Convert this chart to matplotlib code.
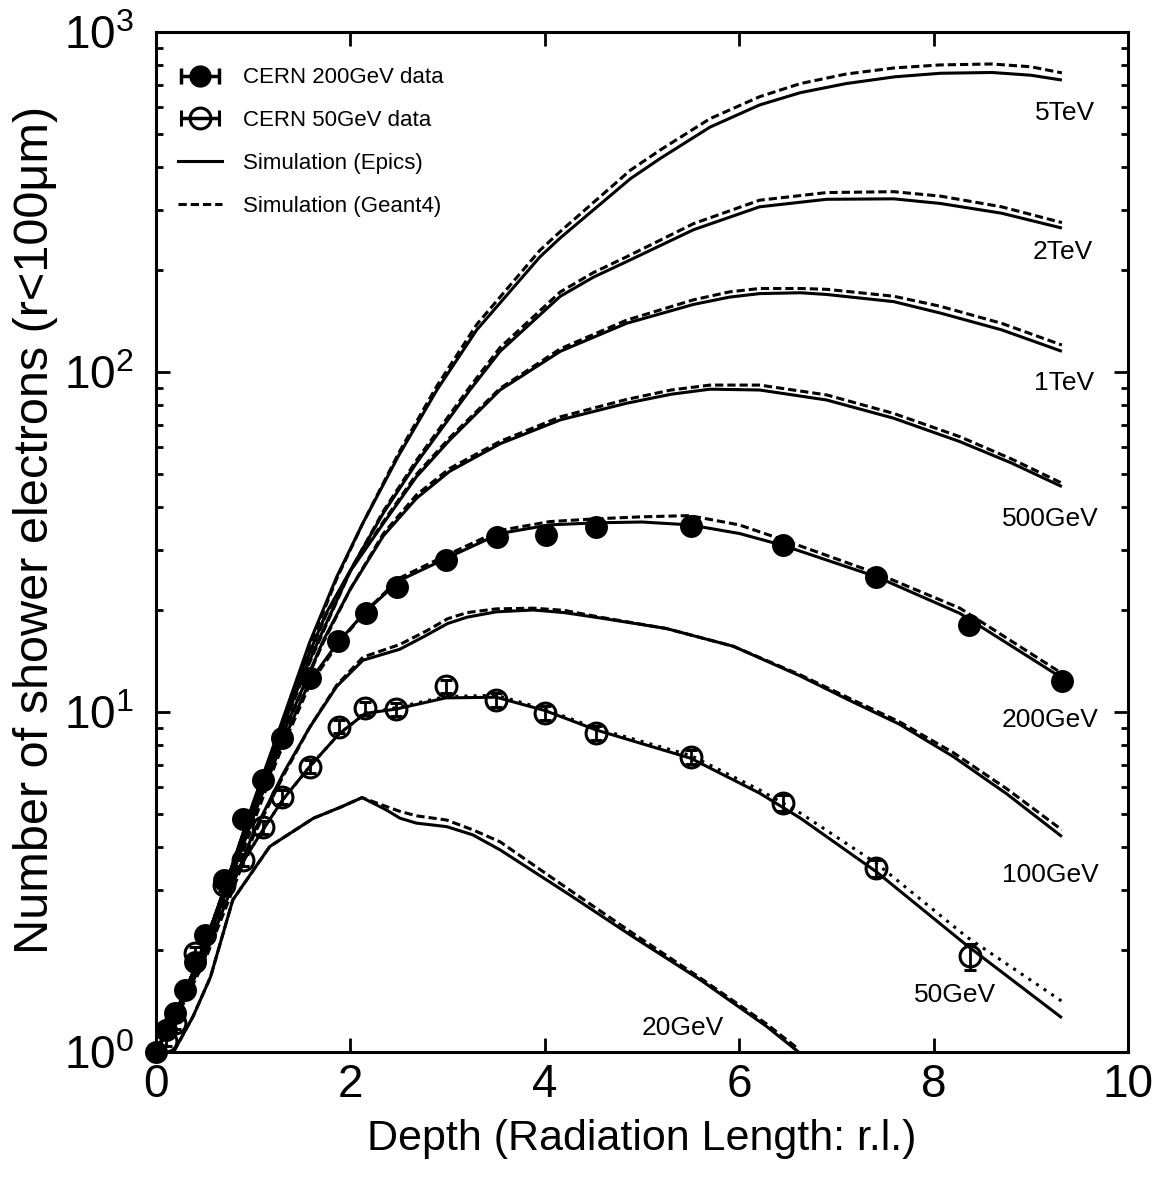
import numpy as np
import matplotlib
matplotlib.use('Agg')
import matplotlib.pyplot as plt
from matplotlib.legend_handler import HandlerErrorbar

plt.rcParams['font.family'] = ['Liberation Sans', 'DejaVu Sans']
plt.rcParams['mathtext.fontset'] = 'custom'
plt.rcParams['mathtext.rm'] = 'Liberation Sans'

# CERN beam data (200 GeV filled, 50 GeV open)
x_200d = [0, 0.1, 0.2, 0.3, 0.4, 0.5, 0.7, 0.9, 1.1, 1.3, 1.58, 1.87, 2.16, 2.48, 2.98,
          3.51, 4.01, 4.53, 5.5, 6.45, 7.41, 8.36, 9.32]
y_200d = [1.0, 1.16, 1.30, 1.52, 1.84, 2.21, 3.2, 4.83, 6.31, 8.4, 12.6, 16.2, 19.6, 23.3, 28.0,
          32.6, 33.2, 35.1, 35.3, 30.9, 25.0, 18.0, 12.3]
err_200d = [0.03, 0.03, 0.04, 0.04, 0.05, 0.06, 0.08, 0.1, 0.12, 0.15, 0.2, 0.25, 0.3, 0.35, 0.4,
            0.45, 0.45, 0.5, 0.5, 0.45, 0.4, 0.35, 0.3]

x_50d = [0.1, 0.2, 0.4, 0.7, 0.9, 1.1, 1.3, 1.58, 1.88, 2.15, 2.47, 2.98, 3.5, 4.0, 4.53,
         5.5, 6.45, 7.41, 8.37]
y_50d = [1.08, 1.22, 1.95, 3.1, 3.67, 4.58, 5.63, 6.9, 9.05, 10.25, 10.2, 11.9, 10.85, 9.95, 8.69,
         7.39, 5.4, 3.47, 1.91]
err_50d = [0.04, 0.05, 0.08, 0.12, 0.15, 0.2, 0.25, 0.3, 0.4, 0.45, 0.45, 0.5, 0.5, 0.45, 0.4,
           0.35, 0.3, 0.2, 0.17]

# simulation curves: Epics (solid) and Geant4 (dashed)
x_5tev = [0, 0.25, 0.5, 0.75, 1.0, 1.25, 1.58, 1.86, 2.13, 2.5, 2.89, 3.3, 3.95, 4.16, 4.88,
          5.19, 5.7, 6.21, 6.63, 7.1, 7.6, 8.07, 8.6, 9.0, 9.32]
epics_5tev = [1.0, 1.4, 2.05, 3.3, 5.4, 8.6, 16, 25, 36, 57, 88.5, 133, 218, 248, 370,
              425, 525, 610, 663, 705, 738, 756, 760, 746, 722]
g4_5tev = [1.0, 1.4, 2.05, 3.3, 5.3, 8.4, 15.6, 24.7, 36, 58, 91, 138, 228, 259, 392,
           450, 556, 645, 705, 752, 784, 800, 805, 790, 758]

x_2tev = [0, 0.25, 0.5, 0.75, 1.0, 1.25, 1.5, 1.75, 2.06, 2.34, 2.68, 3.23, 3.54, 4.16, 4.5,
          4.84, 5.53, 6.21, 6.9, 7.59, 8.07, 8.7, 9.32]
epics_2tev = [1.0, 1.4, 2.05, 3.3, 5.4, 8.5, 13.2, 19.5, 28, 38.5, 54, 88.5, 115, 167, 190,
              211, 262, 306, 322, 323, 313, 293, 265]
g4_2tev = [1.0, 1.4, 2.05, 3.3, 5.3, 8.3, 13.0, 19.3, 28, 39, 55, 90.5, 118, 172, 196,
           218, 273, 320, 337, 339, 329, 306, 275]

x_1tev = [0, 0.25, 0.5, 0.75, 1.0, 1.25, 1.5, 1.75, 2.0, 2.34, 2.68, 3.02, 3.54, 4.16, 4.84,
          5.53, 5.9, 6.21, 6.63, 6.9, 7.59, 8.07, 8.7, 9.32]
epics_1tev = [1.0, 1.4, 2.05, 3.3, 5.3, 8.2, 12.6, 18.2, 26, 35.9, 49.2, 63, 88.5, 115, 139,
              158, 166, 170, 171, 169, 161, 149, 133, 115]
g4_1tev = [1.0, 1.4, 2.05, 3.3, 5.2, 8.1, 12.4, 18.0, 26, 36.3, 50, 64, 89.5, 117, 142,
           163, 172, 176, 176, 175, 167, 156, 139, 120]

x_500 = [0, 0.25, 0.5, 0.75, 1.0, 1.25, 1.5, 1.72, 2.0, 2.34, 2.68, 3.02, 3.54, 4.16, 4.84,
         5.3, 5.7, 6.21, 6.9, 7.59, 8.27, 8.8, 9.32]
epics_500 = [1.0, 1.4, 2.0, 3.2, 5.1, 7.9, 11.6, 16.2, 23, 33, 42.5, 51, 61.5, 72.3, 80.9,
             86, 89, 88.5, 82.7, 73.1, 62.4, 54, 46]
g4_500 = [1.0, 1.4, 2.0, 3.2, 5.0, 7.8, 11.5, 16.0, 23, 33.5, 43.5, 52, 62.5, 73.8, 83,
          88.5, 91.5, 91.5, 85.6, 75.5, 64.5, 55.5, 47.1]

x_200 = [0, 0.25, 0.5, 0.75, 1.0, 1.25, 1.58, 1.87, 2.16, 2.51, 3.02, 3.54, 4.05, 4.53, 5.0,
         5.49, 6.0, 6.45, 7.41, 8.27, 9.3]
epics_200 = [1.0, 1.4, 2.0, 3.1, 4.9, 7.5, 12.3, 16.0, 19.8, 24.4, 28.6, 33.5, 35.5, 36.0, 36.2,
             35.5, 33.5, 30.9, 25.0, 19.5, 12.7]
g4_200 = [1.0, 1.38, 1.95, 3.0, 4.7, 7.3, 12.0, 15.8, 19.8, 24.8, 29.2, 34.2, 36.3, 37.0, 37.5,
          37.8, 35.5, 32.1, 25.6, 20.2, 13.1]

x_100 = [0, 0.25, 0.5, 0.75, 1.0, 1.31, 1.58, 1.86, 2.13, 2.51, 2.78, 3.0, 3.2, 3.5, 3.88,
         4.2, 4.57, 5.25, 5.94, 6.63, 7.14, 7.65, 8.2, 8.75, 9.32]
epics_100 = [1.0, 1.35, 1.9, 2.9, 4.4, 6.6, 9.0, 11.9, 14.2, 15.3, 16.8, 18.2, 19.0, 19.7, 19.95,
             19.6, 18.9, 17.6, 15.6, 12.75, 10.8, 9.2, 7.4, 5.75, 4.3]
g4_100 = [1.0, 1.33, 1.85, 2.8, 4.3, 6.5, 9.0, 12.0, 14.5, 15.8, 17.3, 18.8, 19.6, 20.1, 20.2,
          19.9, 19.0, 17.6, 15.6, 12.85, 10.95, 9.35, 7.6, 5.95, 4.5]

x_50 = [0, 0.3, 0.5, 0.69, 0.9, 1.1, 1.3, 1.58, 1.88, 2.15, 2.47, 2.98, 3.5, 4.0, 4.53,
        5.5, 6.21, 6.63, 7.41, 8.34, 9.32]
epics_50 = [1.0, 1.5, 2.1, 2.9, 3.65, 4.5, 5.5, 6.9, 8.6, 9.9, 10.2, 11.0, 11.05, 10.1, 8.85,
            7.31, 5.77, 4.87, 3.39, 2.06, 1.26]
g4_50 = [1.0, 1.5, 2.1, 2.9, 3.65, 4.5, 5.5, 6.9, 8.6, 9.9, 10.3, 11.1, 11.2, 10.2, 8.95,
         7.45, 5.9, 5.04, 3.59, 2.18, 1.41]

x_20 = [0.18, 0.38, 0.56, 0.79, 1.17, 1.62, 1.9, 2.12, 2.37, 2.51, 2.68, 2.99, 3.26, 3.54,
        4.23, 4.91, 5.6, 6.28, 6.61]
epics_20 = [1.0, 1.27, 1.66, 2.8, 4.02, 4.87, 5.25, 5.6, 5.15, 4.87, 4.71, 4.6, 4.35, 3.93,
            2.93, 2.18, 1.63, 1.19, 1.0]
g4_20 = [1.0, 1.27, 1.66, 2.8, 4.02, 4.87, 5.25, 5.6, 5.27, 5.1, 4.95, 4.81, 4.5, 4.15,
         3.03, 2.23, 1.65, 1.21, 1.02]

# energy labels placed next to the curve ends
energy_labels = ['5TeV', '2TeV', '1TeV', '500GeV', '200GeV', '100GeV', '50GeV', '20GeV']
label_x = [9.35, 9.33, 9.34, 9.2, 9.2, 9.2, 8.22, 5.42]
label_y = [578, 225, 92.8, 37, 9.47, 3.31, 1.47, 1.18]

fig = plt.figure(figsize=(11.66, 11.88), dpi=100)
ax = fig.add_axes([0.1338, 0.1145, 0.8336, 0.8586])

dash = (0, (2.7, 1.3))
dot = (0, (1, 2))
lw = 2.2

curves = [(x_5tev, epics_5tev, g4_5tev, dash),
          (x_2tev, epics_2tev, g4_2tev, dash),
          (x_1tev, epics_1tev, g4_1tev, dash),
          (x_500, epics_500, g4_500, dash),
          (x_200, epics_200, g4_200, dash),
          (x_100, epics_100, g4_100, dash),
          (x_50, epics_50, g4_50, dot),
          (x_20, epics_20, g4_20, dash)]
for xs, ye, yg, ls in curves:
    ax.plot(xs, ye, color='black', lw=lw, solid_capstyle='butt', solid_joinstyle='round')
    ax.plot(xs, yg, color='black', lw=lw, linestyle=ls)

ax.errorbar(x_200d, y_200d, yerr=err_200d, fmt='o', color='black', ms=15.5,
            elinewidth=2, capsize=4.5, capthick=2, clip_on=False, zorder=5)
ax.errorbar(x_50d, y_50d, yerr=err_50d, fmt='o', color='black', ms=15, mfc='none',
            mew=2.2, elinewidth=2, capsize=4.5, capthick=2, zorder=5)

for txt, lx, ly in zip(energy_labels, label_x, label_y):
    ax.text(lx, ly, txt, fontsize=19, ha='center', va='center')

ax.set_yscale('log')
ax.set_xlim(0, 10)
ax.set_ylim(1, 1000)
ax.set_xticks([0, 2, 4, 6, 8, 10])

ax.tick_params(which='both', direction='in', top=True, right=True, width=2)
ax.tick_params(which='major', length=10)
ax.tick_params(which='minor', length=5)
ax.tick_params(axis='x', labelsize=33, pad=8)
ax.tick_params(axis='y', labelsize=33, pad=16)
for sp in ax.spines.values():
    sp.set_linewidth(2.2)

ax.set_xlabel('Depth (Radiation Length: r.l.)', fontsize=31, va='top')
ax.set_ylabel('Number of shower electrons (r<100\u03bcm)', fontsize=35)
ax.xaxis.set_label_coords(0.5, -0.066)
ax.yaxis.set_label_coords(-0.101, 0.512)

# legend proxies with horizontal error bars
h1 = ax.errorbar([np.nan], [np.nan], xerr=[1], fmt='o', color='black', ms=15,
                 elinewidth=2.5, capsize=6, capthick=2.5)
h2 = ax.errorbar([np.nan], [np.nan], xerr=[1], fmt='o', color='black', ms=15, mfc='none',
                 mew=2.2, elinewidth=2.5, capsize=6, capthick=2.5)
h3, = ax.plot([], [], color='black', lw=lw)
h4, = ax.plot([], [], color='black', lw=lw, linestyle=dash)
ax.legend([h1, h2, h3, h4],
          ['CERN 200GeV data', 'CERN 50GeV data', 'Simulation (Epics)', 'Simulation (Geant4)'],
          loc='upper left', bbox_to_anchor=(0.0, 0.987), frameon=False, fontsize=16,
          handlelength=1.95, handletextpad=0.95, labelspacing=0.98, borderaxespad=0.6,
          handler_map={type(h1): HandlerErrorbar(xerr_size=0.87)})

fig.savefig('out.png', dpi=100)
